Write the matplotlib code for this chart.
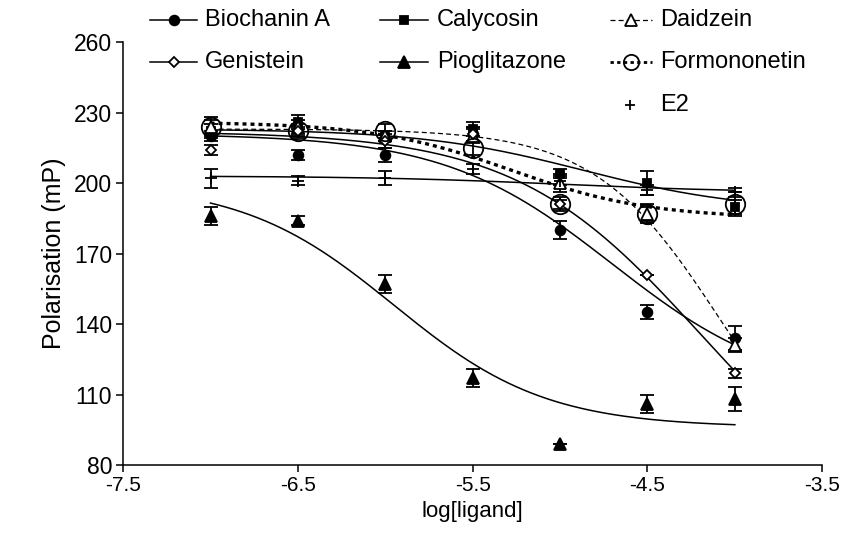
import numpy as np
import matplotlib
matplotlib.use("Agg")
import matplotlib.pyplot as plt
from matplotlib.lines import Line2D

plt.rcParams['font.family'] = ['Liberation Sans', 'DejaVu Sans']

# log concentrations of ligand
log_conc = [-7.0, -6.5, -6.0, -5.5, -5.0, -4.5, -4.0]

# mean polarisation (mP) and error
biochanin = [220, 212, 212, 221, 180, 145, 134]
biochanin_err = [2, 2, 3, 3, 4, 3, 5]
calycosin = [222, 226, 220, 223, 204, 200, 190]
calycosin_err = [3, 3, 2, 3, 2, 5, 3]
daidzein = [224, 224, 220, 220, 200, 187, 131]
daidzein_err = [3, 3, 2, 3, 4, 3, 3]
genistein = [214, 222, 218, 221, 191, 161, 119]
genistein_err = [2, 2, 3, 3, 2, 0, 2]
pioglitazone = [186, 184, 157, 117, 89, 106, 108]
pioglitazone_err = [4, 2, 4, 4, 0, 4, 5]
formononetin = [224, 222, 222, 215, 191, 187, 191]
formononetin_err = [4, 3, 3, 3, 3, 4, 5]
e2 = [202, 201, 202, 206, 201, 197, 196]
e2_err = [4, 2, 3, 2, 2, 2, 2]

# fitted sigmoid parameters: top, bottom, logEC50, hill slope
fit_biochanin = (221, 110, -4.70, 0.90)
fit_calycosin = (223, 188, -4.87, 0.93)
fit_daidzein = (223, 60, -4.08, 1.20)
fit_genistein = (222, 50, -4.20, 0.82)
fit_pioglitazone = (200, 96, -5.95, 1.00)
fit_formononetin = (226, 185, -5.28, 1.10)
fit_e2 = (203, 196, -5.00, 0.80)


def sigmoid(x, top, bottom, ec50, hill):
    return bottom + (top - bottom) / (1 + 10 ** ((x - ec50) * hill))


series = [
    # label, values, err, fit, marker, mfc, ms, linestyle, lw
    ("Biochanin A", biochanin, biochanin_err, fit_biochanin, "o", "k", 7, "-", 1.1),
    ("Calycosin", calycosin, calycosin_err, fit_calycosin, "s", "k", 6, "-", 1.1),
    ("Daidzein", daidzein, daidzein_err, fit_daidzein, "^", "white", 8, (0, (4, 2.5)), 0.9),
    ("Genistein", genistein, genistein_err, fit_genistein, "D", "white", 5.5, "-", 1.1),
    ("Pioglitazone", pioglitazone, pioglitazone_err, fit_pioglitazone, "^", "k", 8, "-", 1.1),
    ("Formononetin", formononetin, formononetin_err, fit_formononetin, "o", "none", 14, (0, (1.2, 1.2)), 2.4),
    ("E2", e2, e2_err, fit_e2, "+", "k", 8, "-", 1.1),
]

fig = plt.figure(figsize=(8.61, 5.5), dpi=100)
ax = fig.add_axes([0.143, 0.1545, 0.812, 0.769])

xs = np.linspace(-7, -4, 200)
for label, vals, err, fit, mk, mfc, ms, ls, lw in series:
    ax.plot(xs, sigmoid(xs, *fit), color="k", ls=ls, lw=lw, zorder=2)
    ax.errorbar(log_conc, vals, yerr=err, fmt=mk, color="k", mfc=mfc, mec="k",
                ms=ms, mew=1.3, ecolor="k", elinewidth=1.3, capsize=5,
                capthick=1.8, zorder=3)

ax.set_xlim(-7.5, -3.5)
ax.set_ylim(80, 260)
ax.set_xticks([-7.5, -6.5, -5.5, -4.5, -3.5])
ax.set_xticklabels(["-7.5", "-6.5", "-5.5", "-4.5", "-3.5"])
ax.set_yticks([80, 110, 140, 170, 200, 230, 260])
ax.spines['top'].set_visible(False)
ax.spines['right'].set_visible(False)
ax.spines['left'].set_linewidth(1.1)
ax.spines['bottom'].set_linewidth(1.1)
ax.tick_params(direction="out", length=5, width=1.1, labelsize=15, pad=3)
ax.tick_params(axis="y", labelsize=16.5)
ax.set_xlabel("log[ligand]", fontsize=16, labelpad=4)
ax.set_ylabel("Polarisation (mP)", fontsize=18, labelpad=6)

# legend drawn by hand in figure pixels
W, H = 861, 550
legend_pos = [
    (150, 197, 205, 20),
    (380, 428, 437, 20),
    (610, 652, 660, 20),
    (150, 197, 205, 62),
    (380, 428, 437, 62),
    (610, 652, 660, 62),
    (None, None, 660, 105),
]
for (label, vals, err, fit, mk, mfc, ms, ls, lw), (x0, x1, tx, y) in zip(series, legend_pos):
    yf = 1 - y / H
    if x0 is None:
        fig.add_artist(Line2D([630 / W], [yf], marker="+", color="k", ms=7,
                              mew=1.3, ls="none", transform=fig.transFigure))
    else:
        xm = (x0 + x1) / 2
        leg_ms = ms if label != "Formononetin" else 11
        fig.add_artist(Line2D([x0 / W, xm / W, x1 / W], [yf, yf, yf],
                              color="k", ls=ls, lw=lw if lw < 2 else 2.0,
                              marker=mk, markevery=[1], mfc=mfc, mec="k",
                              ms=leg_ms, mew=1.3, transform=fig.transFigure))
    fig.text(tx / W, yf, label, fontsize=17, va="center", ha="left")

fig.savefig("out.png", dpi=100)
